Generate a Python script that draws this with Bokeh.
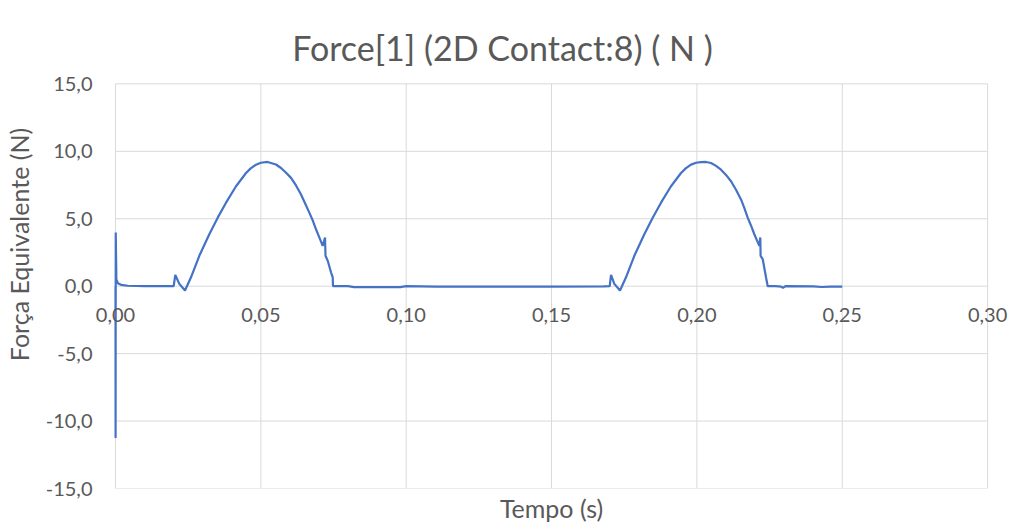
from bokeh.plotting import figure
from bokeh.models import Range1d, FixedTicker, CustomJSTickFormatter, LinearAxis, Label
from bokeh.embed import file_html
from bokeh.resources import INLINE

title_text = "Force[1] (2D Contact:8) ( N )"
x_label = "Tempo (s)"
y_label = "Força Equivalente (N)"
x_ticks = [0.0, 0.05, 0.10, 0.15, 0.20, 0.25, 0.30]
y_ticks = [-15, -10, -5, 0, 5, 10, 15]

# initial transient
t_start = [0.0, 0.00003, 0.00008, 0.0003, 0.0008, 0.0019, 0.0042, 0.0100]
f_start = [0.0, -11.25, 3.98, 0.50, 0.22, 0.10, 0.03, 0.0]

# first contact pulse
t_pulse1 = [0.0200, 0.02057, 0.02195, 0.02391, 0.02597, 0.02883, 0.03227, 0.03516,
            0.03802, 0.04146, 0.04490, 0.04660, 0.04833, 0.05000, 0.05230, 0.05520,
            0.05693, 0.05860, 0.06037, 0.06210, 0.06381, 0.06520, 0.06667, 0.06790,
            0.06897, 0.07010, 0.07128, 0.07207, 0.07224, 0.07300, 0.07413, 0.07472, 0.07482]
f_pulse1 = [0.0, 0.83, 0.17, -0.32, 0.66, 2.25, 3.85, 5.08,
            6.19, 7.41, 8.39, 8.75, 9.01, 9.15, 9.21, 9.02,
            8.76, 8.43, 8.03, 7.47, 6.80, 6.15, 5.45, 4.85,
            4.22, 3.62, 2.99, 3.61, 2.25, 1.89, 1.03, 0.66, 0.0]

# rest between pulses
t_rest1 = [0.0800, 0.0820, 0.0900, 0.0980, 0.1000, 0.1100, 0.1300, 0.1500, 0.1680]
f_rest1 = [0.0, -0.07, -0.06, -0.07, 0.0, -0.03, -0.04, -0.04, -0.02]

# second contact pulse
t_pulse2 = [0.1700, 0.17045, 0.17159, 0.17355, 0.17561, 0.17847, 0.18191, 0.18480,
            0.18765, 0.19109, 0.19453, 0.19625, 0.19797, 0.19970, 0.20141, 0.20313,
            0.20485, 0.20657, 0.20829, 0.21001, 0.21173, 0.21345, 0.21517, 0.21630,
            0.21747, 0.21860, 0.21975, 0.22147, 0.22181, 0.22191, 0.22263, 0.22377, 0.22435]
f_pulse2 = [0.0, 0.83, 0.17, -0.32, 0.66, 2.25, 3.85, 5.08,
            6.19, 7.41, 8.39, 8.75, 9.01, 9.15, 9.20, 9.21,
            9.13, 8.92, 8.64, 8.25, 7.78, 7.15, 6.43, 5.80,
            5.08, 4.50, 3.85, 2.99, 3.61, 2.25, 2.01, 0.66, 0.0]

# rest after second pulse
t_rest2 = [0.2270, 0.2290, 0.2296, 0.2305, 0.2400, 0.2430, 0.2460, 0.2500]
f_rest2 = [0.0, -0.03, -0.12, 0.0, -0.02, -0.06, -0.04, -0.03]

time = t_start + t_pulse1 + t_rest1 + t_pulse2 + t_rest2
force = f_start + f_pulse1 + f_rest1 + f_pulse2 + f_rest2

FONT = "Lato"
TXT = "#595959"
GRID = "#d9d9d9"

# The frame is widened to the sides (so the in-plot tick labels are not clipped)
# and extended up to the top of the canvas (so the title can live inside it).
p = figure(width=1009, height=525, x_range=Range1d(-0.00757, 0.30753),
           y_range=Range1d(-15, 21.18),
           output_backend="svg", toolbar_location=None, title=None,
           min_border_left=93, min_border_right=0, min_border_top=0, min_border_bottom=33,
           background_fill_color="white", border_fill_color="white", outline_line_color=None)

p.xgrid.visible = False
p.ygrid.visible = False

# gridlines limited to the plot area [0, 0.30] x [-15, 15]
p.segment(x0=[x_ticks[0]] * len(y_ticks), x1=[x_ticks[-1]] * len(y_ticks),
          y0=y_ticks, y1=y_ticks, line_color=GRID, line_width=1)
p.segment(x0=x_ticks, x1=x_ticks,
          y0=[y_ticks[0]] * len(x_ticks), y1=[y_ticks[-1]] * len(x_ticks),
          line_color=GRID, line_width=1)

xa = p.xaxis[0]
xa.fixed_location = 0
xa.ticker = FixedTicker(ticks=x_ticks)
xa.formatter = CustomJSTickFormatter(code="return tick.toFixed(2).replace('.', ',');")
xa.axis_line_color = None
xa.major_tick_line_color = None
xa.minor_tick_line_color = None
xa.major_label_standoff = 16
xa.major_label_text_font = FONT
xa.major_label_text_font_size = "20px"
xa.major_label_text_color = TXT

ya = p.yaxis[0]
ya.ticker = FixedTicker(ticks=y_ticks)
ya.formatter = CustomJSTickFormatter(code="return tick.toFixed(1).replace('.', ',');")
ya.axis_line_color = None
ya.major_tick_line_color = None
ya.minor_tick_line_color = None
ya.major_label_standoff = -5
ya.major_label_text_font = FONT
ya.major_label_text_font_size = "20px"
ya.major_label_text_color = TXT
ya.axis_label = y_label
ya.axis_label_text_font = FONT
ya.axis_label_text_font_size = "25px"
ya.axis_label_text_font_style = "normal"
ya.axis_label_text_color = TXT
ya.axis_label_standoff = 9

xt = LinearAxis(ticker=FixedTicker(ticks=[]), axis_label=x_label,
                axis_line_color=None, major_tick_line_color=None, minor_tick_line_color=None,
                major_label_text_font_size="0px", axis_label_standoff=4,
                axis_label_text_font=FONT, axis_label_text_font_size="25px",
                axis_label_text_font_style="normal", axis_label_text_color=TXT)
p.add_layout(xt, "below")

p.line(time, force, line_color="#4472C4", line_width=2.2)

# chart title, centred over the whole chart area
title = Label(x=0.1331, y=17.72, text=title_text, text_align="center",
              text_baseline="alphabetic", text_font=FONT, text_font_size="34px",
              text_color=TXT)
p.add_layout(title)

open("out.html", "w").write(file_html(p, INLINE))
